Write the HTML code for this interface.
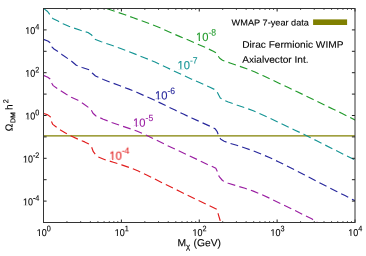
<!DOCTYPE html>
<html><head><meta charset="utf-8"><title>chart</title>
<style>html,body{margin:0;padding:0;background:#fff;}body{width:366px;height:256px;overflow:hidden;position:relative;font-family:"Liberation Sans",sans-serif;}</style>
</head><body>
<svg width="366" height="256" viewBox="0 0 366 256" style="position:absolute;left:0;top:0">
<defs><clipPath id="c"><rect x="43.50" y="8.50" width="311.50" height="214.00"/></clipPath></defs>
<g font-family="Liberation Sans, sans-serif" text-rendering="geometricPrecision" opacity="0.999" stroke-width="0.12" stroke-linejoin="round">
<text transform="translate(39.40,205.20) matrix(1,0.0005,0,1.1,0,0)" font-size="9" text-anchor="end" fill="#000" stroke="#000">10<tspan font-size="7.3" dy="-4.0" dx="0">-4</tspan></text>
<text transform="translate(39.40,162.40) matrix(1,0.0005,0,1.1,0,0)" font-size="9" text-anchor="end" fill="#000" stroke="#000">10<tspan font-size="7.3" dy="-4.0" dx="0">-2</tspan></text>
<text transform="translate(39.40,119.60) matrix(1,0.0005,0,1.1,0,0)" font-size="9" text-anchor="end" fill="#000" stroke="#000">10<tspan font-size="7.3" dy="-4.0" dx="0">0</tspan></text>
<text transform="translate(39.40,76.80) matrix(1,0.0005,0,1.1,0,0)" font-size="9" text-anchor="end" fill="#000" stroke="#000">10<tspan font-size="7.3" dy="-4.0" dx="0">2</tspan></text>
<text transform="translate(39.40,34.00) matrix(1,0.0005,0,1.1,0,0)" font-size="9" text-anchor="end" fill="#000" stroke="#000">10<tspan font-size="7.3" dy="-4.0" dx="0">4</tspan></text>
<text transform="translate(43.80,235.90) matrix(1,0.0005,0,1.1,0,0)" font-size="9" text-anchor="middle" fill="#000" stroke="#000">10<tspan font-size="7.3" dy="-4.2" dx="0">0</tspan></text>
<text transform="translate(121.67,235.90) matrix(1,0.0005,0,1.1,0,0)" font-size="9" text-anchor="middle" fill="#000" stroke="#000">10<tspan font-size="7.3" dy="-4.2" dx="0">1</tspan></text>
<text transform="translate(199.55,235.90) matrix(1,0.0005,0,1.1,0,0)" font-size="9" text-anchor="middle" fill="#000" stroke="#000">10<tspan font-size="7.3" dy="-4.2" dx="0">2</tspan></text>
<text transform="translate(277.43,235.90) matrix(1,0.0005,0,1.1,0,0)" font-size="9" text-anchor="middle" fill="#000" stroke="#000">10<tspan font-size="7.3" dy="-4.2" dx="0">3</tspan></text>
<text transform="translate(355.30,235.90) matrix(1,0.0005,0,1.1,0,0)" font-size="9" text-anchor="middle" fill="#000" stroke="#000">10<tspan font-size="7.3" dy="-4.2" dx="0">4</tspan></text>
<text transform="translate(231.60,25.50) matrix(1.02,0.0005,0,0.97,0,0)" font-size="9" fill="#000" stroke="#000">WMAP 7-year data</text>
<text transform="translate(242.20,47.75) matrix(1.012,0.0005,0,0.95,0,0)" font-size="10" fill="#000" stroke="#000">Dirac Fermionic WIMP</text>
<text transform="translate(242.20,62.75) matrix(1.012,0.0005,0,0.95,0,0)" font-size="10" fill="#000" stroke="#000">Axialvector Int.</text>
<text transform="translate(177.50,246.30) matrix(1,0.0005,0,1,0,0)" font-size="10.3" fill="#000" stroke="#000">M</text>
<text transform="translate(186.00,249.00) matrix(1,0.0005,0,1,0,0)" font-size="7.8" fill="#000" stroke="#000">χ</text>
<text transform="translate(193.50,246.30) matrix(1,0.0005,0,1,0,0)" font-size="10.3" fill="#000" stroke="#000">(GeV)</text>
<g transform="translate(12.4,131.2) rotate(-90) matrix(1,0.0005,0,1,0,0)" fill="#000" stroke="#000"><text x="0" y="0" font-size="10.2">Ω</text><text x="8.2" y="2.8" font-size="6.9">DM</text><text x="21.2" y="0" font-size="10.2">h</text><text x="27.9" y="-4.2" font-size="7.2">2</text></g>
<text transform="translate(196.00,41.10) matrix(1,0.0005,0,1.06,0,0)" font-size="11.2" text-anchor="start" fill="#219a2b" stroke="#219a2b">10<tspan font-size="8.6" dy="-5.3" dx="0">-8</tspan></text>
<text transform="translate(177.50,69.20) matrix(1,0.0005,0,1.06,0,0)" font-size="11.2" text-anchor="start" fill="#149494" stroke="#149494">10<tspan font-size="8.6" dy="-5.3" dx="0">-7</tspan></text>
<text transform="translate(155.00,99.60) matrix(1,0.0005,0,1.06,0,0)" font-size="11.2" text-anchor="start" fill="#27279c" stroke="#27279c">10<tspan font-size="8.6" dy="-5.3" dx="0">-6</tspan></text>
<text transform="translate(133.10,126.70) matrix(1,0.0005,0,1.06,0,0)" font-size="11.2" text-anchor="start" fill="#9a1ea2" stroke="#9a1ea2">10<tspan font-size="8.6" dy="-5.3" dx="0">-5</tspan></text>
<text transform="translate(109.40,159.60) matrix(1,0.0005,0,1.06,0,0)" font-size="11.2" text-anchor="start" fill="#e11c1c" stroke="#e11c1c">10<tspan font-size="8.6" dy="-5.3" dx="0">-4</tspan></text>
</g>
<g fill="#fff"><rect x="22.88" y="204.16" width="2.22" height="1.39"/><rect x="26.08" y="204.16" width="2.09" height="1.39"/><rect x="22.88" y="161.36" width="2.22" height="1.39"/><rect x="26.08" y="161.36" width="2.09" height="1.39"/><rect x="25.31" y="118.56" width="2.22" height="1.39"/><rect x="28.51" y="118.56" width="2.09" height="1.39"/><rect x="25.31" y="75.76" width="2.22" height="1.39"/><rect x="28.51" y="75.76" width="2.09" height="1.39"/><rect x="25.31" y="32.96" width="2.22" height="1.39"/><rect x="28.51" y="32.96" width="2.09" height="1.39"/><rect x="36.75" y="234.86" width="2.22" height="1.39"/><rect x="39.94" y="234.86" width="2.09" height="1.39"/><rect x="114.63" y="234.86" width="2.22" height="1.39"/><rect x="117.82" y="234.86" width="2.09" height="1.39"/><rect x="192.50" y="234.86" width="2.22" height="1.39"/><rect x="195.69" y="234.86" width="2.09" height="1.39"/><rect x="270.38" y="234.86" width="2.22" height="1.39"/><rect x="273.57" y="234.86" width="2.09" height="1.39"/><rect x="348.25" y="234.86" width="2.22" height="1.39"/><rect x="351.44" y="234.86" width="2.09" height="1.39"/><rect x="196.15" y="39.91" width="2.63" height="1.54"/><rect x="199.93" y="39.91" width="2.46" height="1.54"/><rect x="177.65" y="68.01" width="2.63" height="1.54"/><rect x="181.43" y="68.01" width="2.46" height="1.54"/><rect x="155.15" y="98.41" width="2.63" height="1.54"/><rect x="158.93" y="98.41" width="2.46" height="1.54"/><rect x="133.25" y="125.51" width="2.63" height="1.54"/><rect x="137.03" y="125.51" width="2.46" height="1.54"/><rect x="109.55" y="158.41" width="2.63" height="1.54"/><rect x="113.33" y="158.41" width="2.46" height="1.54"/></g>
<line x1="43.50" x2="355.00" y1="135.95" y2="135.95" stroke="#808000" stroke-width="1.3"/>
<g clip-path="url(#c)" fill="none" stroke-width="1.15" stroke-dasharray="7.95 4.22" stroke-linejoin="round">
<path d="M100.00,6.20 L106.70,8.50 L116.70,12.00 L125.00,14.70 L133.30,17.80 L141.70,20.80 L150.00,23.80 L160.00,27.70 L163.30,29.30 L171.70,33.00 L180.00,36.60 L188.30,40.00 L196.70,43.70 L205.00,47.30 L213.30,51.20 L216.30,53.00 L218.00,55.80 L219.70,58.30 L222.50,60.30 L230.00,63.00 L238.30,65.80 L246.70,68.80 L255.00,72.00 L263.30,75.80 L271.70,79.70 L280.00,83.70 L288.30,87.50 L296.70,91.60 L305.00,95.50 L313.30,99.50 L325.00,105.30 L333.30,109.20 L341.70,113.30 L350.00,117.50 L355.00,120.00 L358.00,121.50" stroke="#219a2b" stroke-dashoffset="4.57"/>
<path d="M43.50,8.40 L47.60,11.50 L49.70,14.30 L51.50,17.20 L53.20,18.80 L58.00,21.10 L63.00,23.70 L68.80,26.30 L73.80,28.00 L80.50,30.30 L88.00,32.50 L91.30,34.70 L94.70,39.20 L101.30,41.70 L111.70,45.30 L120.00,48.30 L128.30,51.30 L136.70,54.70 L145.00,58.00 L155.00,62.00 L166.70,67.50 L175.00,71.50 L183.30,75.30 L191.70,79.20 L200.00,82.80 L210.00,87.20 L215.00,89.70 L217.00,91.70 L218.70,95.00 L220.30,98.00 L224.20,100.30 L228.30,102.00 L236.70,105.00 L245.00,107.70 L253.30,110.80 L261.70,114.60 L270.00,118.30 L278.30,122.20 L286.70,126.30 L295.00,130.20 L304.20,134.40 L316.70,140.80 L333.30,149.20 L350.00,157.50 L355.00,160.00 L358.00,161.50" stroke="#149494" stroke-dashoffset="11.36"/>
<path d="M43.50,39.40 L47.80,41.00 L50.30,42.80 L51.20,45.00 L52.10,47.20 L54.00,49.00 L58.10,51.70 L62.20,54.70 L68.00,58.70 L72.20,61.70 L76.30,65.30 L82.20,67.50 L89.70,70.00 L92.20,73.00 L95.50,76.00 L103.30,79.50 L111.70,82.70 L120.00,85.80 L128.30,88.90 L136.70,92.30 L145.00,96.00 L154.20,100.00 L166.70,106.10 L175.00,110.10 L183.30,114.10 L191.70,118.00 L200.00,121.70 L211.70,127.00 L215.00,128.70 L217.20,131.70 L218.70,135.80 L220.80,139.20 L224.20,141.20 L228.30,142.80 L236.70,145.30 L245.00,148.00 L253.30,150.80 L261.70,154.20 L270.00,157.80 L278.30,161.70 L286.70,165.80 L295.00,170.00 L304.20,174.70 L320.00,183.00 L328.30,187.20 L336.70,191.40 L345.00,195.60 L355.00,200.70 L358.00,202.20" stroke="#27279c" stroke-dashoffset="0.36"/>
<path d="M43.50,75.40 L47.80,77.20 L50.30,79.10 L51.80,83.20 L53.20,85.60 L57.30,88.50 L60.50,90.60 L66.30,94.30 L71.30,97.20 L78.00,100.30 L83.00,103.50 L88.80,107.70 L91.00,109.50 L93.00,113.30 L96.00,116.00 L103.30,119.20 L111.70,122.50 L120.00,125.40 L128.30,128.10 L136.70,131.00 L145.00,134.60 L152.50,138.20 L166.70,145.20 L183.30,153.00 L200.00,160.80 L207.50,164.50 L211.70,166.30 L215.80,168.30 L217.50,171.70 L219.20,176.70 L222.50,180.50 L228.30,183.30 L236.70,185.80 L245.00,188.30 L253.30,191.10 L261.70,194.60 L270.00,198.40 L278.30,202.50 L286.70,206.60 L295.00,210.50 L303.30,214.70 L311.70,218.80 L317.50,222.50 L321.00,224.50" stroke="#9a1ea2" stroke-dashoffset="0.24"/>
<path d="M43.50,113.30 L47.80,114.90 L50.30,116.70 L51.30,121.20 L52.80,124.40 L55.60,126.50 L59.70,129.70 L65.50,133.00 L70.50,135.80 L78.00,139.20 L84.70,141.90 L88.30,143.70 L91.30,146.20 L93.30,151.70 L95.80,155.00 L98.30,157.00 L105.00,159.70 L113.30,162.20 L121.70,164.90 L130.00,167.70 L138.30,171.00 L146.70,175.00 L163.30,183.30 L180.00,191.50 L196.70,199.70 L216.70,209.20 L218.00,213.30 L220.00,220.00 L220.80,222.50 L221.50,225.00" stroke="#e11c1c" stroke-dashoffset="11.66"/>
</g>
<path d="M43.50,222.50 v-3.00 M43.50,8.50 v3.00 M121.38,222.50 v-3.00 M121.38,8.50 v3.00 M199.25,222.50 v-3.00 M199.25,8.50 v3.00 M277.12,222.50 v-3.00 M277.12,8.50 v3.00 M355.00,222.50 v-3.00 M355.00,8.50 v3.00 M43.50,222.50 h3.1 M355.00,222.50 h-3.1 M43.50,201.10 h3.1 M355.00,201.10 h-3.1 M43.50,179.70 h3.1 M355.00,179.70 h-3.1 M43.50,158.30 h3.1 M355.00,158.30 h-3.1 M43.50,136.90 h3.1 M355.00,136.90 h-3.1 M43.50,115.50 h3.1 M355.00,115.50 h-3.1 M43.50,94.10 h3.1 M355.00,94.10 h-3.1 M43.50,72.70 h3.1 M355.00,72.70 h-3.1 M43.50,51.30 h3.1 M355.00,51.30 h-3.1 M43.50,29.90 h3.1 M355.00,29.90 h-3.1 M43.50,8.50 h3.1 M355.00,8.50 h-3.1" stroke="#222" stroke-width="1" fill="none"/>
<path d="M66.94,222.50 v-1.50 M66.94,8.50 v1.50 M80.66,222.50 v-1.50 M80.66,8.50 v1.50 M90.39,222.50 v-1.50 M90.39,8.50 v1.50 M97.93,222.50 v-1.50 M97.93,8.50 v1.50 M104.10,222.50 v-1.50 M104.10,8.50 v1.50 M109.31,222.50 v-1.50 M109.31,8.50 v1.50 M113.83,222.50 v-1.50 M113.83,8.50 v1.50 M117.81,222.50 v-1.50 M117.81,8.50 v1.50 M144.82,222.50 v-1.50 M144.82,8.50 v1.50 M158.53,222.50 v-1.50 M158.53,8.50 v1.50 M168.26,222.50 v-1.50 M168.26,8.50 v1.50 M175.81,222.50 v-1.50 M175.81,8.50 v1.50 M181.97,222.50 v-1.50 M181.97,8.50 v1.50 M187.19,222.50 v-1.50 M187.19,8.50 v1.50 M191.70,222.50 v-1.50 M191.70,8.50 v1.50 M195.69,222.50 v-1.50 M195.69,8.50 v1.50 M222.69,222.50 v-1.50 M222.69,8.50 v1.50 M236.41,222.50 v-1.50 M236.41,8.50 v1.50 M246.14,222.50 v-1.50 M246.14,8.50 v1.50 M253.68,222.50 v-1.50 M253.68,8.50 v1.50 M259.85,222.50 v-1.50 M259.85,8.50 v1.50 M265.06,222.50 v-1.50 M265.06,8.50 v1.50 M269.58,222.50 v-1.50 M269.58,8.50 v1.50 M273.56,222.50 v-1.50 M273.56,8.50 v1.50 M300.57,222.50 v-1.50 M300.57,8.50 v1.50 M314.28,222.50 v-1.50 M314.28,8.50 v1.50 M324.01,222.50 v-1.50 M324.01,8.50 v1.50 M331.56,222.50 v-1.50 M331.56,8.50 v1.50 M337.72,222.50 v-1.50 M337.72,8.50 v1.50 M342.94,222.50 v-1.50 M342.94,8.50 v1.50 M347.45,222.50 v-1.50 M347.45,8.50 v1.50 M351.44,222.50 v-1.50 M351.44,8.50 v1.50" stroke="#333" stroke-width="0.8" fill="none"/>
<rect x="43.50" y="8.50" width="311.50" height="214.00" fill="none" stroke="#333" stroke-width="1.0"/>
<rect x="313.1" y="19.4" width="34" height="5.6" fill="#808000"/>
</svg>
</body></html>
